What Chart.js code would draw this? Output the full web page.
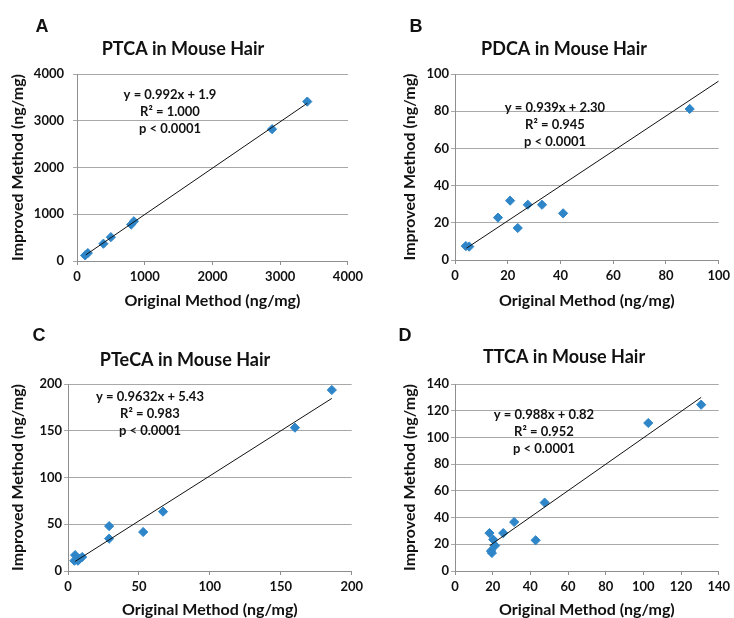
<!DOCTYPE html>
<html>
<head>
<meta charset="utf-8">
<script src="https://cdn.jsdelivr.net/npm/chart.js@4/dist/chart.umd.min.js"></script>
<style>
  html,body{margin:0;padding:0;background:#fff;}
  #wrap{position:relative;width:734px;height:618px;}
  canvas{position:absolute;}
</style>
</head>
<body>
<div id="wrap">
  <canvas id="chartA" width="367" height="309" style="left:0;top:0"></canvas>
  <canvas id="chartB" width="367" height="309" style="left:367px;top:0"></canvas>
  <canvas id="chartC" width="367" height="309" style="left:0;top:309px"></canvas>
  <canvas id="chartD" width="367" height="309" style="left:367px;top:309px"></canvas>
</div>
<script>
// valori
const ptcaOriginal = [120, 160, 390, 500, 800, 840, 2880, 3400];
const ptcaImproved = [120, 170, 370, 510, 780, 850, 2820, 3410];
const ptcaTrendX = [130, 3400];
const ptcaTrendY = [131, 3375];

const pdcaOriginal = [4.1, 5.4, 16.3, 20.9, 23.8, 27.6, 33, 41, 89];
const pdcaImproved = [7.5, 7.2, 22.8, 31.9, 17.2, 29.7, 29.7, 25.1, 81.2];
const pdcaTrendX = [4.4, 100];
const pdcaTrendY = [6.4, 96.2];

const ptecaOriginal = [5, 4.5, 7, 8, 10, 29, 29, 53, 67, 160, 186];
const ptecaImproved = [17, 11, 11, 13, 15, 48, 34.6, 41.7, 63.5, 153.3, 193.6];
const ptecaTrendX = [5, 186];
const ptecaTrendY = [10.2, 184.6];

const ttcaOriginal = [18.3, 20.3, 21.3, 19.1, 19.6, 25.6, 31.4, 42.8, 47.6, 102.6, 130.7];
const ttcaImproved = [28.4, 23.5, 19, 15, 13.5, 28.4, 36.7, 23, 51.2, 110.8, 124.5];
const ttcaTrendX = [18.4, 130.7];
const ttcaTrendY = [19, 130];

const COLORS = {
  point:'#2e85c8',
  trend:'#111111',
  grid:'#a8a8a8',
  axis:'#8f8f8f',
  text:'#111111'
};

function toPoints(xs, ys){ return xs.map((x,i)=>({x, y:ys[i]})); }

// testo del pannello: lettera, titolo, equazione
function panelText(meta){
  return {
    id:'panelText',
    afterDraw(chart){
      const ctx = chart.ctx;
      ctx.save();
      ctx.fillStyle = COLORS.text;
      ctx.textAlign = 'center';
      ctx.textBaseline = 'middle';
      ctx.font = 'bold 18px "Liberation Sans"';
      ctx.fillText(meta.letter, meta.letterX, 27);
      ctx.font = 'bold 18px Lato';
      ctx.fillText(meta.title, meta.titleX, meta.titleY);
      ctx.font = 'bold 13px Lato';
      meta.eqn.forEach((t,i)=>ctx.fillText(t, meta.eqnX, meta.eqnY + i*16.8));
      ctx.restore();
    }
  };
}

function makePanel(canvasId, p){
  const tickFont = {family:'Lato', size:13, weight:'bold'};
  const titleFont = {family:'Lato', size:16, weight:'bold', lineHeight:1};
  return new Chart(document.getElementById(canvasId), {
    type:'scatter',
    data:{
      datasets:[
        {data:toPoints(p.x, p.y), pointStyle:'rectRot', pointRadius:4.6, pointBorderWidth:1,
         backgroundColor:COLORS.point, borderColor:COLORS.point, order:1},
        {type:'line', data:toPoints(p.tx, p.ty), borderColor:COLORS.trend, borderWidth:1,
         pointRadius:0, fill:false, order:0}
      ]
    },
    options:{
      responsive:false,
      animation:false,
      layout:{padding:{left:0, top:p.top, right:367 - p.right, bottom:0}},
      plugins:{legend:{display:false}, tooltip:{enabled:false}},
      scales:{
        x:{
          type:'linear', min:0, max:p.xMax,
          afterFit:(s)=>{ s.height = 309 - p.bottom; },
          ticks:{stepSize:p.xStep, color:COLORS.text, font:tickFont, padding:4, maxRotation:0, callback:v=>v},
          grid:{drawOnChartArea:false, tickLength:4, color:COLORS.axis},
          border:{color:COLORS.axis},
          title:{display:true, text:'Original Method (ng/mg)', color:COLORS.text, font:titleFont, padding:{top:0,bottom:0}}
        },
        y:{
          type:'linear', min:0, max:p.yMax,
          afterFit:(s)=>{ s.width = p.left; },
          ticks:{stepSize:p.yStep, color:COLORS.text, font:tickFont, padding:p.yPad, callback:v=>v},
          grid:{color:COLORS.grid, tickLength:4},
          border:{color:COLORS.axis},
          title:{display:true, text:'Improved Method (ng/mg)', color:COLORS.text, font:titleFont, padding:{top:p.yTitlePad,bottom:0}}
        }
      }
    },
    plugins:[panelText(p)]
  });
}

makePanel('chartA', {
  x:ptcaOriginal, y:ptcaImproved, tx:ptcaTrendX, ty:ptcaTrendY,
  xMax:4000, xStep:1000, yMax:4000, yStep:1000,
  left:77, right:348, top:74, bottom:261, yPad:9, yTitlePad:10,
  letter:'A', letterX:42, title:'PTCA in Mouse Hair', titleX:183, titleY:49,
  eqn:['y = 0.992x + 1.9','R² = 1.000','p < 0.0001'], eqnX:170, eqnY:95
});

makePanel('chartB', {
  x:pdcaOriginal, y:pdcaImproved, tx:pdcaTrendX, ty:pdcaTrendY,
  xMax:100, xStep:20, yMax:100, yStep:20,
  left:88, right:354, top:74, bottom:260, yPad:2, yTitlePad:35,
  letter:'B', letterX:49, title:'PDCA in Mouse Hair', titleX:197, titleY:49,
  eqn:['y = 0.939x + 2.30','R² = 0.945','p < 0.0001'], eqnX:188, eqnY:108
});

makePanel('chartC', {
  x:ptecaOriginal, y:ptecaImproved, tx:ptecaTrendX, ty:ptecaTrendY,
  xMax:200, xStep:50, yMax:200, yStep:50,
  left:68, right:355, top:75, bottom:262, yPad:2, yTitlePad:10,
  letter:'C', letterX:39, title:'PTeCA in Mouse Hair', titleX:185, titleY:51,
  eqn:['y = 0.9632x + 5.43','R² = 0.983','p < 0.0001'], eqnX:150, eqnY:88
});

makePanel('chartD', {
  x:ttcaOriginal, y:ttcaImproved, tx:ttcaTrendX, ty:ttcaTrendY,
  xMax:140, xStep:20, yMax:140, yStep:20,
  left:88, right:354, top:75, bottom:262, yPad:2, yTitlePad:35,
  letter:'D', letterX:38, title:'TTCA in Mouse Hair', titleX:197, titleY:48,
  eqn:['y = 0.988x + 0.82','R² = 0.952','p < 0.0001'], eqnX:177, eqnY:106
});
</script>
</body>
</html>
